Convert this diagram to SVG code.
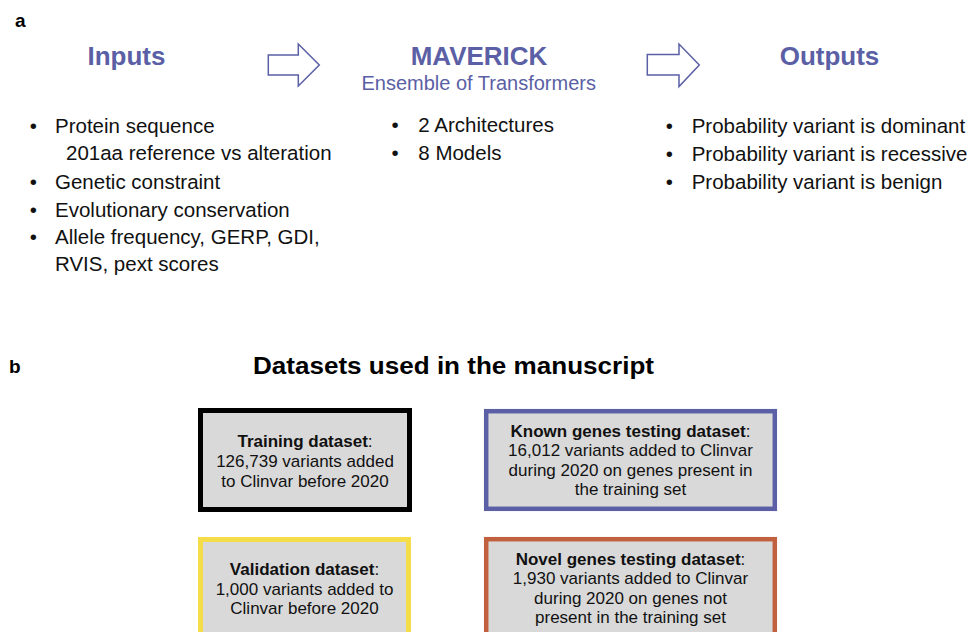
<svg xmlns="http://www.w3.org/2000/svg" width="967" height="632" viewBox="0 0 967 632">
<style>
text{font-family:"Liberation Sans",Arial,Helvetica,sans-serif;fill:#111}
.lbl{font-size:19px;font-weight:bold;fill:#000}
.head{font-size:26px;font-weight:bold;fill:#5b5fa5;text-anchor:middle}
.sub{font-size:20px;fill:#5b5fa5;text-anchor:middle}
.li{font-size:20.5px}
.arrow{fill:#fff;stroke:#5b5fa5;stroke-width:1.5;stroke-linejoin:miter}
.box{fill:#d9d9d9}
.bt{font-size:17px;text-anchor:middle}
.b{font-weight:bold}
.title{font-size:23px;font-weight:bold;fill:#000}
</style>
<rect width="967" height="632" fill="#fff"/>
<text class="lbl" x="15" y="26.5">a</text>
<text class="lbl" x="9" y="373">b</text>

<g id="inputs">
<text class="head" x="126.5" y="65">Inputs</text>
<text class="li" x="29.7" y="132.5">•</text>
<text class="li" x="55" y="132.5">Protein sequence</text>
<text class="li" x="66" y="160">201aa reference vs alteration</text>
<text class="li" x="29.7" y="188.5">•</text>
<text class="li" x="55" y="188.5">Genetic constraint</text>
<text class="li" x="29.7" y="216.5">•</text>
<text class="li" x="55" y="216.5">Evolutionary conservation</text>
<text class="li" x="29.7" y="243.5">•</text>
<text class="li" x="55" y="243.5">Allele frequency, GERP, GDI,</text>
<text class="li" x="55" y="271">RVIS, pext scores</text>
</g>

<g id="maverick">
<text class="head" x="479" y="65">MAVERICK</text>
<text class="sub" x="478.7" y="90">Ensemble of Transformers</text>
<text class="li" x="391.4" y="132">•</text>
<text class="li" x="418.3" y="132">2 Architectures</text>
<text class="li" x="391.4" y="160">•</text>
<text class="li" x="418.3" y="160">8 Models</text>
</g>

<g id="outputs">
<text class="head" x="829.5" y="65">Outputs</text>
<text class="li" x="665.7" y="132.7">•</text>
<text class="li" x="691.7" y="132.7">Probability variant is dominant</text>
<text class="li" x="665.7" y="160.7">•</text>
<text class="li" x="691.7" y="160.7">Probability variant is recessive</text>
<text class="li" x="665.7" y="188.7">•</text>
<text class="li" x="691.7" y="188.7">Probability variant is benign</text>
</g>

<g id="connectors">
<polygon class="arrow" points="268.3,55 298.3,55 298.3,44 319.3,65 298.3,86 298.3,75 268.3,75"/>
<polygon class="arrow" points="647.3,54.5 679,54.5 679,44 699.3,65 679,86.5 679,75 647.3,75"/>
</g>

<text class="title" x="253" y="373.5" textLength="401" lengthAdjust="spacingAndGlyphs">Datasets used in the manuscript</text>

<g id="training">
<rect class="box" x="200.5" y="410.5" width="209" height="99" stroke="#000" stroke-width="5"/>
<text class="bt" x="305" y="447"><tspan class="b">Training dataset</tspan>:</text>
<text class="bt" x="305" y="467">126,739 variants added</text>
<text class="bt" x="305" y="486.5">to Clinvar before 2020</text>
</g>

<g id="known">
<rect class="box" x="486.2" y="411.2" width="288.6" height="97.6" stroke="#5b5fa5" stroke-width="4.5"/>
<text class="bt" x="630.5" y="437"><tspan class="b">Known genes testing dataset</tspan>:</text>
<text class="bt" x="630.5" y="456.3">16,012 variants added to Clinvar</text>
<text class="bt" x="630.5" y="475.5">during 2020 on genes present in</text>
<text class="bt" x="630.5" y="494.5">the training set</text>
</g>

<g id="validation">
<rect class="box" x="200.5" y="539.5" width="208" height="120" stroke="#f5dc49" stroke-width="5"/>
<text class="bt" x="304.5" y="575"><tspan class="b">Validation dataset</tspan>:</text>
<text class="bt" x="304.5" y="594.5">1,000 variants added to</text>
<text class="bt" x="304.5" y="614">Clinvar before 2020</text>
</g>

<g id="novel">
<rect class="box" x="486.2" y="539.2" width="288.6" height="120" stroke="#c0603e" stroke-width="4.5"/>
<text class="bt" x="630.5" y="565"><tspan class="b">Novel genes testing dataset</tspan>:</text>
<text class="bt" x="630.5" y="584.3">1,930 variants added to Clinvar</text>
<text class="bt" x="630.5" y="604">during 2020 on genes not</text>
<text class="bt" x="630.5" y="623.3">present in the training set</text>
</g>
</svg>
